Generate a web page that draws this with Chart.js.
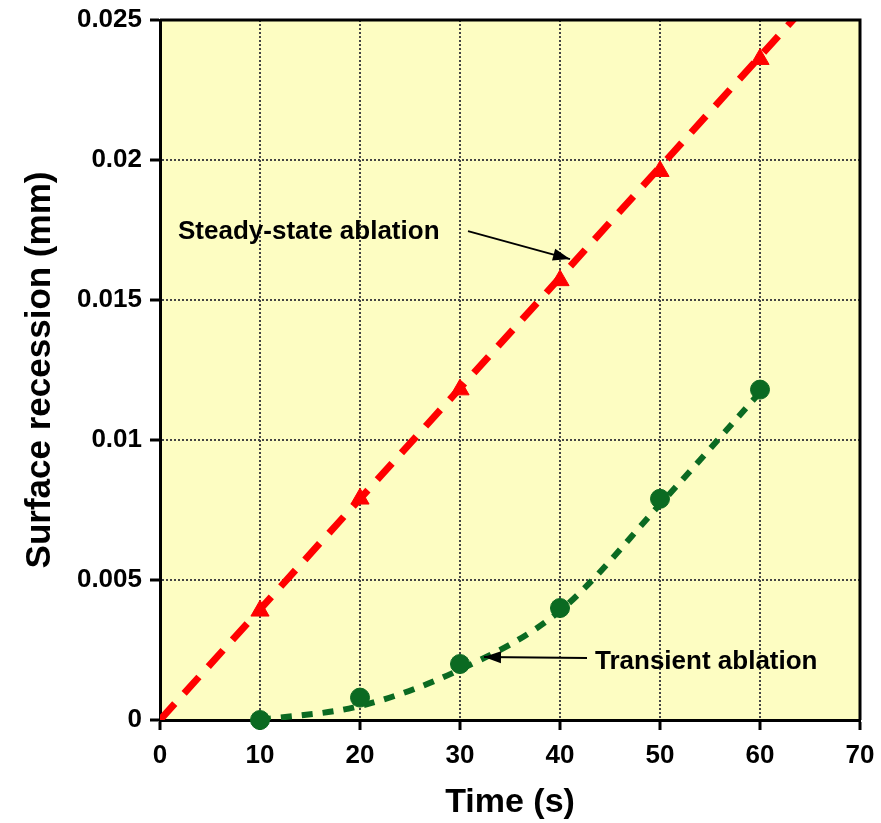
<!DOCTYPE html>
<html>
<head>
<meta charset="utf-8">
<script src="https://cdn.jsdelivr.net/npm/chart.js@4/dist/chart.umd.min.js"></script>
<style>
  html, body { margin: 0; padding: 0; background: #fff; }
  #wrap { width: 881px; height: 823px; position: relative; }
</style>
</head>
<body>
<div id="wrap"><canvas id="chart"></canvas></div>
<script>
// measured points
const timeS = [10, 20, 30, 40, 50, 60];
const steadyState = [0.0039, 0.0079, 0.0118, 0.0157, 0.0196, 0.0236];
const transient = [0.0, 0.0008, 0.0020, 0.0040, 0.0079, 0.0118];

// fitted curves (as drawn)
const steadyFitT = [0, 70];
const steadyFitY = [0, 0.02765];
const transientFitT = [10, 20, 30, 40, 50, 60];
const transientFitY = [0.0, 0.0005, 0.0018, 0.0039, 0.0077, 0.0117];

const xTicks = [0, 10, 20, 30, 40, 50, 60, 70];
const yTicks = [0, 0.005, 0.01, 0.015, 0.02, 0.025];

const FONT = "'Liberation Sans', Arial, sans-serif";

const toXY = (xs, ys) => xs.map((x, i) => ({ x: x, y: ys[i] }));

const plotFrame = {
    id: 'plotFrame',
    beforeDraw(chart) {
        const { ctx, chartArea: a } = chart;
        ctx.save();
        ctx.fillStyle = '#FDFDC2';
        ctx.fillRect(a.left, a.top, a.right - a.left, a.bottom - a.top);
        ctx.restore();
    },
    afterDraw(chart) {
        const { ctx, chartArea: a, scales } = chart;
        ctx.save();
        ctx.strokeStyle = '#000';
        ctx.lineWidth = 3;
        ctx.beginPath();
        ctx.moveTo(a.left, a.top);
        ctx.lineTo(a.right, a.top);
        ctx.lineTo(a.right, a.bottom);
        ctx.stroke();

        // annotations
        const px = t => scales.x.getPixelForValue(t);
        const py = v => scales.y.getPixelForValue(v);
        ctx.fillStyle = '#000';
        ctx.font = 'bold 26px ' + FONT;
        ctx.textBaseline = 'middle';
        ctx.textAlign = 'left';
        ctx.fillText('Steady-state ablation', px(1.8), py(0.01743));
        ctx.fillText('Transient ablation', px(43.5), py(0.00207));

        const arrow = (x1, y1, x2, y2) => {
            ctx.lineWidth = 2;
            ctx.beginPath();
            ctx.moveTo(x1, y1);
            ctx.lineTo(x2, y2);
            ctx.stroke();
            const ang = Math.atan2(y2 - y1, x2 - x1);
            const len = 17, w = 6;
            ctx.beginPath();
            ctx.moveTo(x2, y2);
            ctx.lineTo(x2 - len * Math.cos(ang) + w * Math.sin(ang), y2 - len * Math.sin(ang) - w * Math.cos(ang));
            ctx.lineTo(x2 - len * Math.cos(ang) - w * Math.sin(ang), y2 - len * Math.sin(ang) + w * Math.cos(ang));
            ctx.closePath();
            ctx.fill();
        };
        arrow(px(30.8), py(0.01746), px(41.0), py(0.01646));
        arrow(px(42.7), py(0.00221), px(32.4), py(0.00225));
        ctx.restore();
    }
};

new Chart(document.getElementById('chart'), {
    type: 'scatter',
    data: {
        datasets: [
            {
                label: 'steady fit',
                data: toXY(steadyFitT, steadyFitY),
                showLine: true,
                borderColor: '#FF0000',
                borderWidth: 7,
                borderDash: [22, 14],
                pointRadius: 0,
                order: 3
            },
            {
                label: 'transient fit',
                data: toXY(transientFitT, transientFitY),
                showLine: true,
                borderColor: '#0B6A22',
                borderWidth: 6,
                borderDash: [11, 10],
                cubicInterpolationMode: 'monotone',
                pointRadius: 0,
                order: 4
            },
            {
                label: 'Steady-state ablation',
                data: toXY(timeS, steadyState),
                pointStyle: 'triangle',
                pointRadius: 10.5,
                backgroundColor: '#FF0000',
                borderColor: '#FF0000',
                borderWidth: 1,
                clip: false,
                order: 1
            },
            {
                label: 'Transient ablation',
                data: toXY(timeS, transient),
                pointStyle: 'circle',
                pointRadius: 9.5,
                backgroundColor: '#0B6A22',
                borderColor: '#0B6A22',
                borderWidth: 1,
                clip: false,
                order: 2
            }
        ]
    },
    options: {
        responsive: true,
        maintainAspectRatio: false,
        animation: false,
        layout: { padding: { top: 20, right: 21, left: 0, bottom: 0 } },
        plugins: {
            legend: { display: false },
            tooltip: { enabled: false }
        },
        scales: {
            x: {
                type: 'linear',
                min: 0,
                max: 70,
                afterFit: s => { s.height = 103; s.paddingLeft = 0; s.paddingRight = 0; },
                afterBuildTicks: s => { s.ticks = xTicks.map(v => ({ value: v })); },
                ticks: {
                    color: '#000',
                    font: { family: FONT, size: 26, weight: 'bold' },
                    padding: 10,
                    autoSkip: false,
                    maxRotation: 0
                },
                grid: {
                    color: '#444',
                    lineWidth: 2,
                    tickLength: 10,
                    tickColor: '#000',
                    tickWidth: 3
                },
                border: { color: '#000', width: 3, dash: [2, 2] },
                title: {
                    display: true,
                    text: 'Time (s)',
                    color: '#000',
                    font: { family: FONT, size: 34, weight: 'bold' },
                    padding: { top: 0, bottom: 0 }
                }
            },
            y: {
                type: 'linear',
                min: 0,
                max: 0.025,
                afterFit: s => { s.width = 160; s.paddingTop = 0; s.paddingBottom = 0; },
                afterBuildTicks: s => { s.ticks = yTicks.map(v => ({ value: v })); },
                ticks: {
                    color: '#000',
                    font: { family: FONT, size: 26, weight: 'bold' },
                    padding: 8,
                    callback: v => String(+v.toFixed(3))
                },
                grid: {
                    color: '#444',
                    lineWidth: 2,
                    tickLength: 10,
                    tickColor: '#000',
                    tickWidth: 3
                },
                border: { color: '#000', width: 3, dash: [2, 2] },
                title: {
                    display: true,
                    text: 'Surface recession (mm)',
                    color: '#000',
                    font: { family: FONT, size: 35, weight: 'bold' },
                    padding: { top: 19, bottom: 0 }
                }
            }
        }
    },
    plugins: [plotFrame]
});
</script>
</body>
</html>
